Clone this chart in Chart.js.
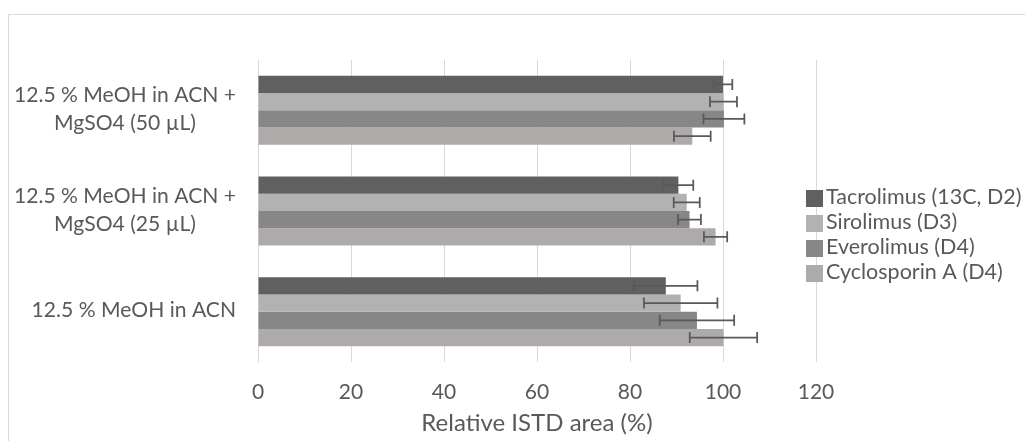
<!DOCTYPE html>
<html>
<head>
<meta charset="utf-8">
<script src="https://cdn.jsdelivr.net/npm/chart.js@4/dist/chart.umd.min.js"></script>
<style>
  html, body { margin: 0; padding: 0; background: #ffffff; }
  #wrap { width: 1025px; height: 441px; position: relative; }
</style>
</head>
<body>
<div id="wrap"><canvas id="chart" width="1025" height="441"></canvas></div>
<script>
// Sample preparation conditions (top to bottom)
const categories = [
  ["12.5 % MeOH in ACN +", "MgSO4 (50 µL)"],
  ["12.5 % MeOH in ACN +", "MgSO4 (25 µL)"],
  ["12.5 % MeOH in ACN"]
];

// Internal standards
const seriesNames = ["Tacrolimus (13C, D2)", "Sirolimus (D3)", "Everolimus (D4)", "Cyclosporin A (D4)"];

// Relative ISTD area (%) per condition
const tacrolimus  = [100.0, 90.4, 87.7];
const sirolimus   = [100.1, 92.2, 90.9];
const everolimus  = [100.2, 92.8, 94.4];
const cyclosporin = [93.4, 98.4, 100.1];

// Standard deviations
const tacrolimusErr  = [2.0, 3.2, 6.8];
const sirolimusErr   = [2.9, 2.8, 7.9];
const everolimusErr  = [4.4, 2.45, 8.0];
const cyclosporinErr = [3.95, 2.5, 7.25];

const xTicks = [0, 20, 40, 60, 80, 100, 120];

const seriesColors = ["#606060", "#b2b2b2", "#878787", "#aeaaaa"];
const TEXT = "#595959";
const GRID = "#d9d9d9";
const FONT = "Lato";
const CATEGORY_SIZE = 21.1;
const LEGEND_SIZE = 21.5;
const TICK_SIZE = 21;
const TITLE_SIZE = 24;

const values = [tacrolimus, sirolimus, everolimus, cyclosporin];
const errors = [tacrolimusErr, sirolimusErr, everolimusErr, cyclosporinErr];

const datasets = seriesNames.map((name, i) => ({
  label: name,
  data: values[i],
  errors: errors[i],
  backgroundColor: seriesColors[i],
  borderWidth: 0,
  categoryPercentage: 0.685,
  barPercentage: 1.0
}));

// White background and the outer frame of the chart
const framePlugin = {
  id: 'frame',
  beforeDraw(chart) {
    const ctx = chart.ctx;
    ctx.save();
    ctx.fillStyle = '#ffffff';
    ctx.fillRect(0, 0, chart.width, chart.height);
    ctx.strokeStyle = GRID;
    ctx.lineWidth = 1;
    ctx.strokeRect(8.5, 14.5, chart.width + 20, chart.height + 20);
    ctx.restore();
  }
};

// Horizontal error bars with end caps
const errorBarPlugin = {
  id: 'errorBars',
  afterDatasetsDraw(chart) {
    const ctx = chart.ctx;
    const xs = chart.scales.x;
    ctx.save();
    ctx.strokeStyle = '#595959';
    ctx.lineWidth = 1.75;
    chart.data.datasets.forEach((ds, di) => {
      const meta = chart.getDatasetMeta(di);
      meta.data.forEach((bar, i) => {
        const v = ds.data[i], e = ds.errors[i];
        const x0 = xs.getPixelForValue(v - e);
        const x1 = xs.getPixelForValue(v + e);
        const y = bar.y;
        const cap = 5.5;
        ctx.beginPath();
        ctx.moveTo(x0, y); ctx.lineTo(x1, y);
        ctx.moveTo(x0, y - cap); ctx.lineTo(x0, y + cap);
        ctx.moveTo(x1, y - cap); ctx.lineTo(x1, y + cap);
        ctx.stroke();
      });
    });
    ctx.restore();
  }
};

// Category labels: each block right-aligned to the axis, lines centred within the block
const categoryLabelPlugin = {
  id: 'categoryLabels',
  afterDraw(chart) {
    const ctx = chart.ctx;
    const ys = chart.scales.y;
    const rightEdge = ys.right - 22;
    const lineGap = 28;
    ctx.save();
    ctx.font = CATEGORY_SIZE + 'px ' + FONT;
    ctx.fillStyle = TEXT;
    ctx.textAlign = 'center';
    ctx.textBaseline = 'middle';
    chart.data.labels.forEach((lines, i) => {
      const yc = ys.getPixelForTick(i);
      const w = Math.max(...lines.map(l => ctx.measureText(l).width));
      const xc = rightEdge - w / 2;
      const y0 = yc - (lines.length - 1) * lineGap / 2 - 1;
      lines.forEach((l, k) => ctx.fillText(l, xc, y0 + k * lineGap));
    });
    ctx.restore();
  }
};

// Legend placed at the right, overlapping the plot edge
const legendPlugin = {
  id: 'sideLegend',
  afterDraw(chart) {
    const ctx = chart.ctx;
    const boxX = 806, top = 190, box = 17, rowH = 25;
    ctx.save();
    ctx.font = LEGEND_SIZE + 'px ' + FONT;
    ctx.textAlign = 'left';
    ctx.textBaseline = 'middle';
    chart.data.datasets.forEach((ds, i) => {
      const y = top + i * rowH;
      ctx.fillStyle = ds.backgroundColor;
      ctx.fillRect(boxX, y, box, box);
      ctx.fillStyle = TEXT;
      ctx.fillText(ds.label, boxX + box + 3, y + box / 2 - 1);
    });
    ctx.restore();
  }
};

new Chart(document.getElementById('chart'), {
  type: 'bar',
  data: { labels: categories, datasets },
  plugins: [framePlugin, errorBarPlugin, categoryLabelPlugin, legendPlugin],
  options: {
    indexAxis: 'y',
    responsive: false,
    animation: false,
    layout: { padding: { top: 60, right: 209, bottom: 0, left: 0 } },
    plugins: {
      legend: { display: false },
      tooltip: { enabled: false }
    },
    scales: {
      x: {
        type: 'linear',
        min: xTicks[0],
        max: xTicks[xTicks.length - 1],
        afterBuildTicks(scale) { scale.ticks = xTicks.map(v => ({ value: v })); },
        afterFit(scale) { scale.height = 79; },
        grid: { color: GRID, lineWidth: 1, drawTicks: false },
        border: { display: false },
        ticks: {
          color: TEXT,
          padding: 18,
          font: { family: FONT, size: TICK_SIZE }
        },
        title: {
          display: true,
          text: 'Relative ISTD area (%)',
          color: TEXT,
          padding: 3,
          font: { family: FONT, size: TITLE_SIZE }
        }
      },
      y: {
        type: 'category',
        afterFit(scale) { scale.width = 258; },
        grid: { display: false, drawTicks: false },
        border: { display: true, color: GRID, width: 1 },
        ticks: { display: false }
      }
    }
  }
});
</script>
</body>
</html>
